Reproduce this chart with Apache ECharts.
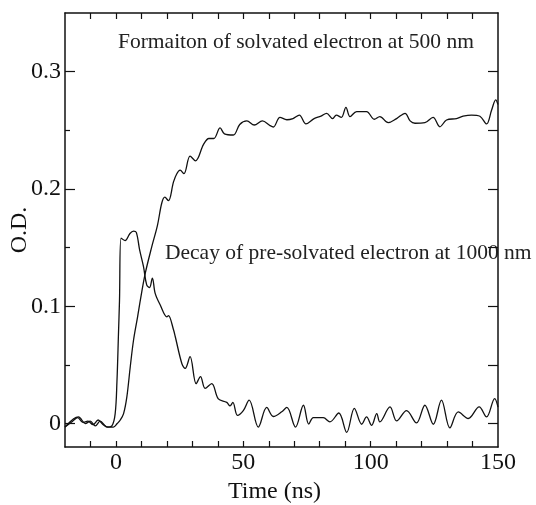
<!DOCTYPE html>
<html>
<head>
<meta charset="utf-8">
<script src="https://cdn.jsdelivr.net/npm/echarts@6/dist/echarts.min.js"></script>
<style>
  html, body { margin: 0; padding: 0; background: #fff; }
  #chart { width: 536px; height: 505px; }
</style>
</head>
<body>
<div id="chart"></div>
<script>
// Formation at 500 nm
const time500 = [-20, -17, -15, -13, -11, -9, -7, -5, -3, -1, 0.5, 1.7, 3, 4.3, 5.6, 6.9, 8.5, 9.8,
  11.5, 14.1, 16.3, 18, 19.2, 20.6, 22.6, 23.9, 25.2, 26.7, 29.1, 31.2, 34.4, 36.5, 38.4, 40.9, 42.6,
  46.1, 48.6, 51.4, 54.3, 57.5, 60.5, 61.8, 64.4, 67.1, 69.5, 72, 74.6, 77.8, 80.5, 82.7, 85.1, 86.5,
  88.5, 90.3, 91.9, 94.5, 98.4, 101.4, 103.6, 106.9, 110.2, 113.5, 115.5, 117.4, 121.3, 124.5, 127.2,
  129.8, 133.7, 136.3, 139.6, 142.9, 145.5, 147.5, 149.1, 150];
const od500 = [-0.003, 0.002, 0.005, 0.001, 0.002, -0.001, 0.003, -0.001, -0.003, -0.003, 0.0, 0.003,
  0.0085, 0.023, 0.048, 0.071, 0.091, 0.108, 0.128, 0.151, 0.169, 0.188, 0.193, 0.190, 0.206, 0.213,
  0.216, 0.213, 0.228, 0.224, 0.238, 0.243, 0.243, 0.252, 0.247, 0.246, 0.255, 0.258, 0.2545, 0.258,
  0.254, 0.2528, 0.261, 0.259, 0.260, 0.263, 0.2555, 0.260, 0.262, 0.2645, 0.260, 0.263, 0.261, 0.2696,
  0.2616, 0.266, 0.266, 0.2594, 0.2617, 0.2565, 0.260, 0.2645, 0.258, 0.256, 0.2565, 0.261, 0.253,
  0.2588, 0.260, 0.262, 0.263, 0.262, 0.2554, 0.2673, 0.276, 0.272];

// Decay at 1000 nm
const time1000 = [-20, -16.6, -14.7, -12, -10.1, -8.1, -6.2, -3.5, -1.6, -0.3, 0.4, 1, 1.4, 2, 3.6,
  5.5, 6.9, 8, 9.3, 10.8, 12.1, 13.2, 14.3, 15.4, 17.4, 20, 20.6, 22.6, 23.3, 25.9, 27.2, 29.1, 31.5,
  33.2, 35, 37.6, 40.2, 43.5, 44.8, 45.9, 47.7, 50, 52.3, 55.9, 59.2, 61.8, 65.1, 67.1, 70.5, 73.6,
  75.7, 77.5, 81.4, 84, 87.5, 90.6, 93.6, 96.5, 98.4, 100.4, 102.4, 103.6, 107.6, 110.2, 114.1, 118,
  121.3, 124.6, 127.8, 131.1, 134.4, 138.3, 142.6, 145.5, 148.7, 150];
const od1000 = [-0.003, 0.004, 0.0056, 0, 0.002, -0.002, 0.002, -0.003, -0.002, 0.0085, 0.036, 0.077,
  0.105, 0.158, 0.156, 0.162, 0.164, 0.163, 0.148, 0.134, 0.118, 0.116, 0.124, 0.111, 0.101, 0.091,
  0.092, 0.080, 0.074, 0.051, 0.047, 0.057, 0.034, 0.040, 0.030, 0.034, 0.021, 0.018, 0.015, 0.018,
  0.007, 0.011, 0.020, -0.003, 0.0137, 0.006, 0.010, 0.0137, -0.003, 0.0156, -0.0005, 0.005, 0.005,
  0.0014, 0.009, -0.0075, 0.013, -0.0006, 0.0056, -0.0015, 0.0085, 0.0014, 0.0142, 0.0022, 0.011,
  0.0005, 0.0156, -0.0006, 0.0199, -0.0037, 0.0099, 0.0043, 0.0142, 0.0056, 0.0213, 0.014];

// ticks
const xLabels = [0, 50, 100, 150];
const xTicks = [-10, 0, 10, 20, 30, 40, 50, 60, 70, 80, 90, 100, 110, 120, 130, 140];
const yLabels = [0, 0.1, 0.2, 0.3];
const yMinorTicks = [0.05, 0.15, 0.25];
const yAllTicks = [0, 0.05, 0.1, 0.15, 0.2, 0.25, 0.3];

const chart = echarts.init(document.getElementById('chart'));
const ink = '#111';
const serif = '"Liberation Serif", "Times New Roman", serif';

function pairs(xs, ys) {
    return xs.map((x, i) => [x, ys[i]]);
}

const option = {
    animation: false,
    grid: { left: 65, right: 38, top: 13, bottom: 58, containLabel: false, outerBoundsMode: 'none' },
    xAxis: [
        {
            type: 'value', min: -20, max: 150, position: 'bottom',
            name: 'Time (ns)', nameLocation: 'middle', nameGap: 33, nameMoveOverlap: false,
            nameTextStyle: { fontFamily: serif, fontSize: 24, color: ink, padding: [0, 14, 0, 0] },
            axisLine: { onZero: false, lineStyle: { color: ink, width: 1.5 } },
            axisTick: { inside: true, length: 6, customValues: xTicks, lineStyle: { color: ink, width: 1.2 } },
            axisLabel: { customValues: xLabels, fontFamily: serif, fontSize: 24, color: ink, margin: 4 },
            splitLine: { show: false }
        },
        {
            type: 'value', min: -20, max: 150, position: 'top',
            axisLine: { onZero: false, lineStyle: { color: ink, width: 1.5 } },
            axisTick: { inside: true, length: 6, customValues: xTicks, lineStyle: { color: ink, width: 1.2 } },
            axisLabel: { show: false },
            splitLine: { show: false }
        }
    ],
    yAxis: [
        {
            type: 'value', min: -0.02, max: 0.35, position: 'left',
            name: 'O.D.', nameLocation: 'middle', nameGap: 33, nameMoveOverlap: false,
            nameTextStyle: { fontFamily: serif, fontSize: 24, color: ink },
            axisLine: { onZero: false, lineStyle: { color: ink, width: 1.5 } },
            axisTick: { inside: true, length: 10, customValues: yLabels, lineStyle: { color: ink, width: 1.2 } },
            axisLabel: {
                customValues: yLabels, fontFamily: serif, fontSize: 24, color: ink, margin: 4,
                formatter: v => (v === 0 ? '0' : v.toFixed(1))
            },
            splitLine: { show: false }
        },
        {
            type: 'value', min: -0.02, max: 0.35, position: 'right',
            axisLine: { onZero: false, lineStyle: { color: ink, width: 1.5 } },
            axisTick: { inside: true, length: 10, customValues: yAllTicks, lineStyle: { color: ink, width: 1.2 } },
            axisLabel: { show: false },
            splitLine: { show: false }
        },
        {
            type: 'value', min: -0.02, max: 0.35, position: 'left',
            axisLine: { show: false, onZero: false },
            axisTick: { inside: true, length: 5, customValues: yMinorTicks, lineStyle: { color: ink, width: 1.2 } },
            axisLabel: { show: false },
            splitLine: { show: false }
        }
    ],
    graphic: [
        {
            type: 'text', left: 118, top: 31,
            style: { text: 'Formaiton of solvated electron at 500 nm', fontFamily: serif, fontSize: 21.5, fill: '#222' }
        },
        {
            type: 'text', left: 165, top: 242,
            style: { text: 'Decay of pre-solvated electron at 1000 nm', fontFamily: serif, fontSize: 21.5, fill: '#222' }
        }
    ],
    series: [
        {
            name: '500 nm', type: 'line', xAxisIndex: 0, yAxisIndex: 0,
            data: pairs(time500, od500), smooth: 0.35, showSymbol: false,
            lineStyle: { color: ink, width: 1.3 }
        },
        {
            name: '1000 nm', type: 'line', xAxisIndex: 0, yAxisIndex: 0,
            data: pairs(time1000, od1000), smooth: 0.35, showSymbol: false,
            lineStyle: { color: ink, width: 1.3 }
        }
    ]
};

chart.setOption(option);
</script>
</body>
</html>
